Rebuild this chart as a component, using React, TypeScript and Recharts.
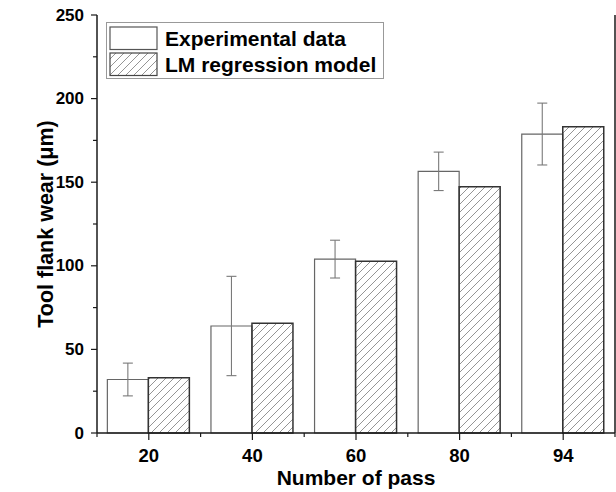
import React from 'react';
import { BarChart, Bar, XAxis, YAxis, Legend, ErrorBar } from 'recharts';

const passes = ['20', '40', '60', '80', '94'];
const experimental = [32, 64, 104, 156.5, 178.8];
const experimentalErr = [9.8, 29.7, 11.3, 11.5, 18.5];
const lmModel = [33, 65.6, 102.7, 147.3, 183.2];
const yTicks = [0, 25, 50, 75, 100, 125, 150, 175, 200, 225, 250];

const W = 616;
const H = 492;
const LEFT = 97;
const RIGHT = 1;
const FONT = '"Liberation Sans", Arial, sans-serif';
const AXIS = '#1a1a1a';

const data = passes.map((p, i) => ({
  pass: p,
  exp: experimental[i],
  expErr: experimentalErr[i],
  lm: lmModel[i],
}));

const band = (W - LEFT - RIGHT) / passes.length;

const HatchDef = ({ id }: { id: string }) => (
  <pattern id={id} width={8} height={8} patternUnits="userSpaceOnUse">
    <path d="M-2,2 L2,-2 M0,8 L8,0 M6,10 L10,6" stroke="#7a7a7a" strokeWidth={0.8} />
  </pattern>
);

const YTick = (props: any) => {
  const { x, y, payload } = props;
  const major = payload.value % 50 === 0;
  return (
    <g>
      <line x1={x - (major ? 6 : 4)} x2={x} y1={y} y2={y} stroke={AXIS} strokeWidth={1.2} />
      {major && (
        <text x={x - 13} y={y} textAnchor="end" dominantBaseline="central"
          fontFamily={FONT} fontWeight="bold" fontSize={17} fill="#000">
          {payload.value}
        </text>
      )}
    </g>
  );
};

const XTick = (props: any) => {
  const { x, y, payload, index } = props;
  return (
    <g>
      <line x1={x} x2={x} y1={y} y2={y + 7} stroke={AXIS} strokeWidth={1.2} />
      <line x1={x + band / 2} x2={x + band / 2} y1={y} y2={y + 4} stroke={AXIS} strokeWidth={1.2} />
      {index === 0 && (
        <line x1={x - band / 2} x2={x - band / 2} y1={y} y2={y + 4} stroke={AXIS} strokeWidth={1.2} />
      )}
      <text x={x} y={y + 29} textAnchor="middle" fontFamily={FONT} fontWeight="bold" fontSize={18.5} fill="#000">
        {payload.value}
      </text>
    </g>
  );
};

const legendItems = [
  { name: 'Experimental data', fill: '#fff', stroke: '#555' },
  { name: 'LM regression model', fill: 'url(#hatchLegend)', stroke: '#444' },
];

const renderLegend = () => (
  <div style={{ border: '1px solid #999', background: '#fff', width: 276, height: 55, boxSizing: 'content-box' }}>
    {legendItems.map((it, i) => (
      <div key={it.name} style={{ display: 'flex', alignItems: 'center', height: 25, marginTop: i === 0 ? 3 : 1 }}>
        <svg width={50} height={25} style={{ marginLeft: 2 }}>
          <defs>
            <HatchDef id="hatchLegend" />
          </defs>
          <rect x={1} y={1} width={47} height={22.5} fill={it.fill} stroke={it.stroke} strokeWidth={1.2} />
        </svg>
        <span style={{ fontFamily: FONT, fontWeight: 'bold', fontSize: 21, color: '#000', marginLeft: 6, whiteSpace: 'nowrap' }}>
          {it.name}
        </span>
      </div>
    ))}
  </div>
);

export default function App() {
  return (
    <div style={{ position: 'fixed', left: 0, top: 0, width: W, height: H, background: '#fff' }}>
      <BarChart width={W} height={H} data={data} barGap={0} barCategoryGap="10%"
        margin={{ top: 15, right: 0, bottom: 0, left: 0 }}>
        <defs>
          <HatchDef id="hatch" />
        </defs>
        <XAxis dataKey="pass" height={59} axisLine={{ stroke: AXIS, strokeWidth: 1.5 }}
          tickLine={false} tickSize={0} tickMargin={0} tick={<XTick />} interval={0}
          label={({ viewBox }: any) => (
            <text x={viewBox.x + viewBox.width / 2} y={viewBox.y + 52} textAnchor="middle"
              fontFamily={FONT} fontWeight="bold" fontSize={21} fill="#000">
              Number of pass
            </text>
          )} />
        <XAxis xAxisId="top" dataKey="pass" orientation="top" height={0}
          axisLine={{ stroke: AXIS, strokeWidth: 1.5 }} tick={false} tickLine={false} />
        <YAxis width={LEFT} domain={[0, 250]} ticks={yTicks} interval={0}
          axisLine={{ stroke: AXIS, strokeWidth: 1.5 }} tickLine={false} tickSize={0} tickMargin={0}
          tick={<YTick />}
          label={({ viewBox }: any) => {
            const cx = viewBox.x + 46;
            const cy = viewBox.y + viewBox.height / 2;
            return (
              <text x={cx} y={cy} transform={`rotate(-90 ${cx} ${cy})`} textAnchor="middle"
                dominantBaseline="central" fontFamily={FONT} fontWeight="bold" fontSize={21.5} fill="#000">
                Tool flank wear (μm)
              </text>
            );
          }} />
        <YAxis yAxisId="right" orientation="right" width={RIGHT} domain={[0, 250]}
          axisLine={{ stroke: AXIS, strokeWidth: 1.5 }} tick={false} tickLine={false} />
        <Legend layout="horizontal" verticalAlign="middle" align="center" content={renderLegend}
          wrapperStyle={{ left: 106, top: 22, width: 278, height: 57 }} />
        <Bar dataKey="exp" name="Experimental data" fill="#fff" stroke="#666" strokeWidth={1.2}
          isAnimationActive={false}>
          <ErrorBar dataKey="expErr" width={5} stroke="#7a7a7a" strokeWidth={1.1} direction="y" />
        </Bar>
        <Bar dataKey="lm" name="LM regression model" fill="url(#hatch)" stroke="#333" strokeWidth={1.5}
          isAnimationActive={false} />
      </BarChart>
    </div>
  );
}
